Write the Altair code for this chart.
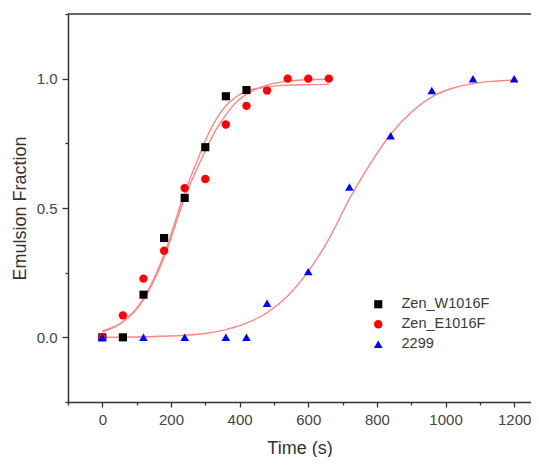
import altair as alt
import pandas as pd

series_names = ["Zen_W1016F", "Zen_E1016F", "2299"]
series_colors = ["#000000", "#ff0000", "#0000ff"]
series_shapes = ["square", "circle", "triangle-up"]
series_sizes = [66, 74, 165]

w_time = [0, 60, 120, 180, 240, 300, 360, 420]
w_frac = [0.0, 0.0, 0.165, 0.384, 0.539, 0.735, 0.932, 0.956]

e_time = [0, 60, 120, 180, 240, 300, 360, 420, 480, 540, 600, 660]
e_frac = [0.0, 0.085, 0.227, 0.335, 0.577, 0.612, 0.823, 0.895, 0.954, 1.0, 1.0, 1.0]

b_time = [0, 120, 240, 360, 420, 480, 600, 720, 840, 960, 1080, 1200]
b_frac = [0.0, 0.0, 0.0, 0.0, 0.0, 0.132, 0.254, 0.581, 0.779, 0.954, 1.0, 1.0]

# fitted curves
fit_w_time = [0, 60, 120, 180, 240, 285, 300, 330, 360, 390, 420, 480, 540, 600, 660]
fit_w_frac = [0.02, 0.06, 0.15, 0.32, 0.56, 0.71, 0.76, 0.84, 0.895, 0.93, 0.952, 0.968, 0.975, 0.977, 0.978]

fit_e_time = [0, 60, 120, 180, 240, 296, 330, 360, 379, 420, 480, 540, 600, 660]
fit_e_frac = [0.025, 0.06, 0.145, 0.31, 0.54, 0.71, 0.80, 0.86, 0.893, 0.94, 0.975, 0.99, 0.996, 0.998]

fit_b_time = [0, 120, 240, 300, 360, 420, 480, 540, 600, 660, 720, 780, 840, 900, 960, 1020, 1080, 1140, 1200]
fit_b_frac = [0.0, 0.002, 0.008, 0.015, 0.03, 0.055, 0.095, 0.16, 0.255, 0.38, 0.535, 0.67, 0.785, 0.87, 0.93, 0.963, 0.981, 0.99, 0.995]

pts = pd.concat([
    pd.DataFrame({"time": w_time, "frac": w_frac, "series": series_names[0]}),
    pd.DataFrame({"time": e_time, "frac": e_frac, "series": series_names[1]}),
    pd.DataFrame({"time": b_time, "frac": b_frac, "series": series_names[2]}),
], ignore_index=True)

fits = pd.concat([
    pd.DataFrame({"time": fit_w_time, "frac": fit_w_frac, "fit": "w"}),
    pd.DataFrame({"time": fit_e_time, "frac": fit_e_frac, "fit": "e"}),
    pd.DataFrame({"time": fit_b_time, "frac": fit_b_frac, "fit": "b"}),
], ignore_index=True)

FONT = "Liberation Sans"
W, H = 463, 388

x_scale = alt.Scale(domain=[-100, 1249], nice=False, zero=False)
y_scale = alt.Scale(domain=[-0.25, 1.25], nice=False, zero=False)

axis_common = dict(
    grid=False, domainColor="#333333", domainWidth=1.5, tickColor="#333333", tickWidth=1.3,
    labelColor="#444444", labelFont=FONT, labelFontSize=15, titleFont=FONT, titleFontSize=18,
    titleFontWeight="normal", titleColor="#333333", labelPadding=5,
)

x_axis = alt.Axis(
    title="Time (s)", values=list(range(-100, 1201, 100)),
    labelExpr="datum.value % 200 === 0 && datum.value >= 0 ? format(datum.value, 'd') : ''",
    tickSize={"condition": {"test": "datum.value % 200 === 0", "value": 5}, "value": 3},
    titlePadding=12, **axis_common,
)
y_axis = alt.Axis(
    title="Emulsion Fraction", values=[-0.25, 0, 0.25, 0.5, 0.75, 1.0, 1.25],
    labelExpr="datum.value % 0.5 === 0 ? format(datum.value, '.1f') : ''",
    tickSize={"condition": {"test": "datum.value % 0.5 === 0", "value": 6}, "value": 3},
    titlePadding=7, **axis_common,
)

legend = alt.Legend(
    title=None, orient="none", legendX=303, legendY=283, padding=0,
    labelFont=FONT, labelFontSize=14.5, labelColor="#3a3a3a", labelOffset=16,
    symbolSize=55, rowPadding=5, symbolStrokeWidth=0,
)

border = alt.Chart(pd.DataFrame({"k": [0]})).mark_rule(color="#333333", strokeWidth=1.5).encode(
    x=alt.value(0), x2=alt.value(W), y=alt.value(0)
)

lines = alt.Chart(fits).mark_line(color="#ff8585", strokeWidth=1.4, interpolate="monotone").encode(
    x=alt.X("time:Q", scale=x_scale, axis=x_axis),
    y=alt.Y("frac:Q", scale=y_scale, axis=y_axis),
    detail="fit:N",
)

points = alt.Chart(pts).mark_point(filled=True, opacity=1).encode(
    x=alt.X("time:Q", scale=x_scale, axis=x_axis),
    y=alt.Y("frac:Q", scale=y_scale, axis=y_axis),
    color=alt.Color("series:N", scale=alt.Scale(domain=series_names, range=series_colors), legend=legend),
    shape=alt.Shape("series:N", scale=alt.Scale(domain=series_names, range=series_shapes), legend=legend),
    size=alt.Size("series:N", scale=alt.Scale(domain=series_names, range=series_sizes), legend=None),
)

chart = alt.layer(border, lines, points).properties(
    width=W, height=H, autosize="none",
    padding={"left": 60, "top": 6, "right": 0, "bottom": 55},
    background="white",
).configure_view(stroke="transparent")

chart.save("out.html", embed_options={"renderer": "svg", "actions": False})
